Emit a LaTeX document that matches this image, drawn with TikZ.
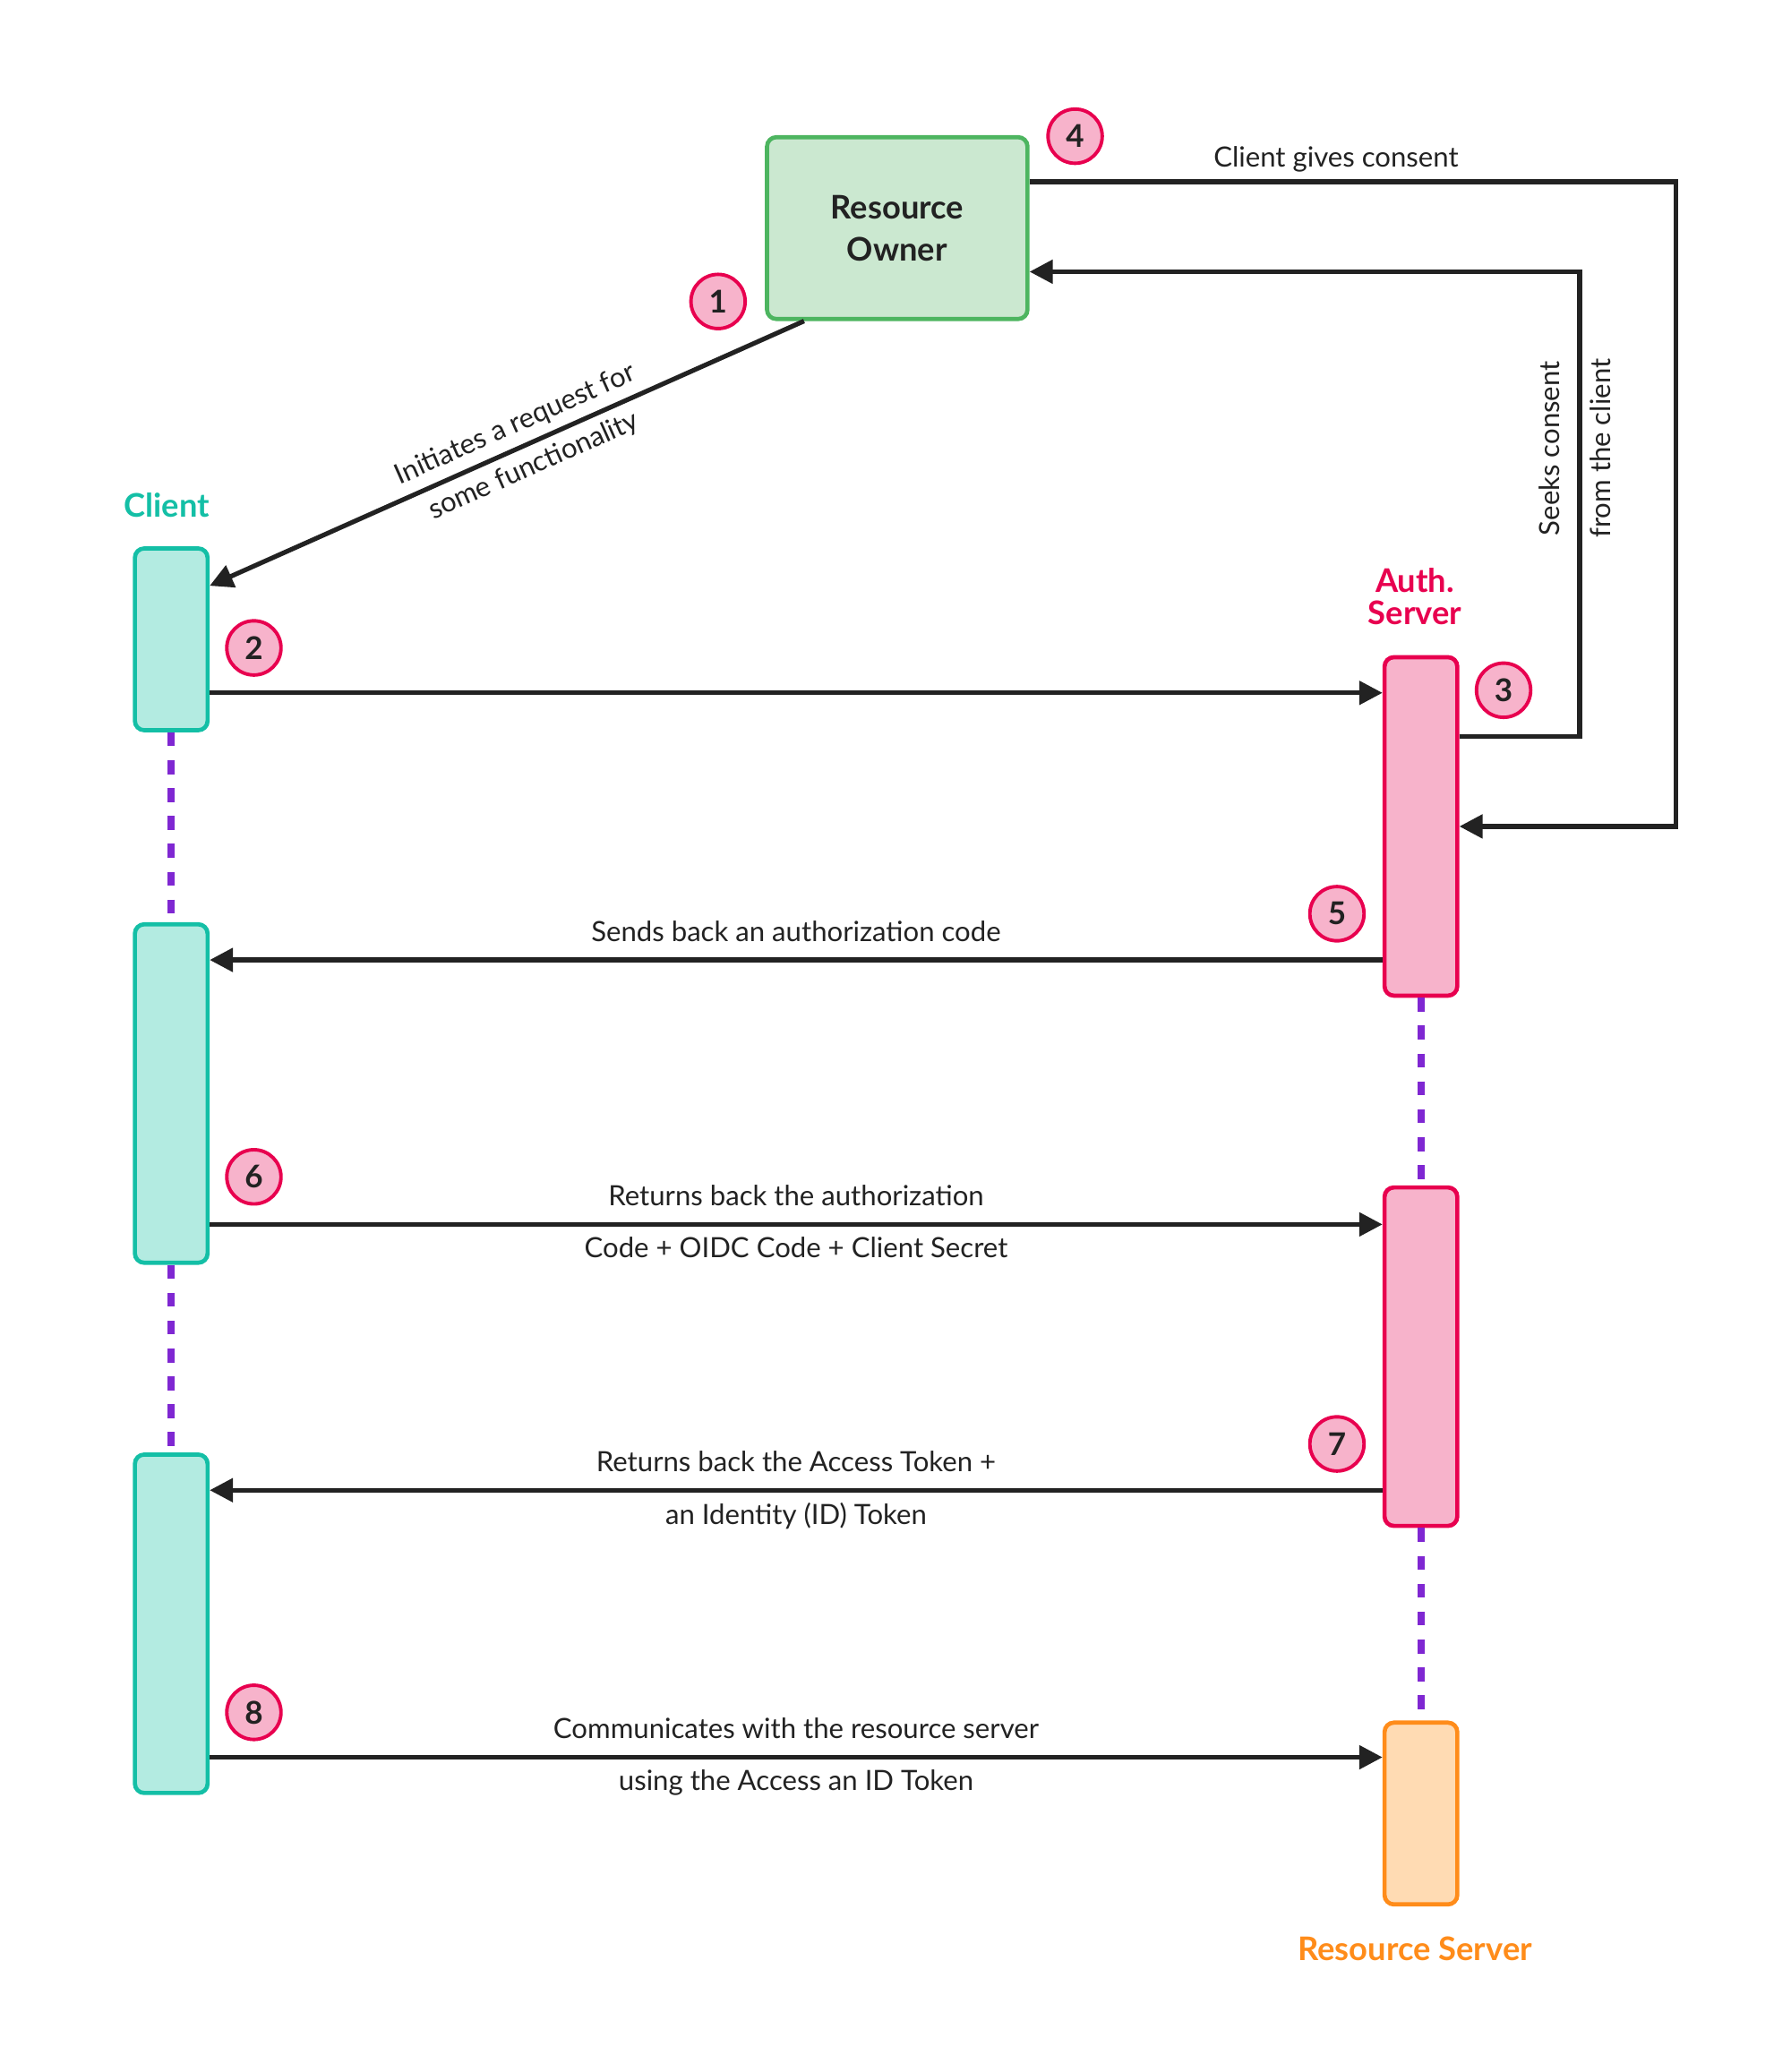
\documentclass[tikz,border=0pt]{standalone}
\usepackage{fontspec}
\setmainfont{Lato}
\usepackage{xcolor}
\usetikzlibrary{arrows.meta}

\definecolor{ink}{HTML}{222222}
\definecolor{tealline}{HTML}{14BFA6}
\definecolor{tealfill}{HTML}{B3EBE1}
\definecolor{pinkline}{HTML}{E8004F}
\definecolor{pinkfill}{HTML}{F7B3CB}
\definecolor{greenline}{HTML}{4DB560}
\definecolor{greenfill}{HTML}{CBE8D0}
\definecolor{orangeline}{HTML}{FF8C1A}
\definecolor{orangefill}{HTML}{FFDBB3}
\definecolor{lifeline}{HTML}{7F27D2}

\begin{document}
\begin{tikzpicture}[
            x=0.02cm, y=-0.02cm,
            bar/.style={draw, rectangle, rounded corners=4pt, line width=1.8pt, minimum width=1.10cm},
            client/.style={bar, draw=tealline, fill=tealfill},
            auth/.style={bar, draw=pinkline, fill=pinkfill},
            badge/.style={draw=pinkline, fill=pinkfill, circle, line width=1.5pt, minimum size=0.82cm, inner sep=0pt, text=ink, font=\fontsize{13.5}{14}\selectfont\bfseries},
            title/.style={align=center, font=\fontsize{14}{13.7}\selectfont\bfseries},
            msg/.style={text=ink, font=\fontsize{12}{14}\selectfont},
            arr/.style={draw=ink, line width=2pt, -{Triangle[length=10pt, width=10pt]}},
            life/.style={draw=lifeline, line width=3pt, dash pattern=on 6pt off 6pt}
            ]
            \useasboundingbox (0,0) rectangle (1354,1567);

            % Nodes with manual coordinates
            \node[draw=greenline, fill=greenfill, rectangle, rounded corners=4pt, line width=1.8pt, minimum width=3.94cm, minimum height=2.75cm, align=center, text=ink, font=\fontsize{14}{18.2}\selectfont\bfseries] (ro) at (678.5,172.5) {Resource\\Owner};

            \node[client, minimum height=2.75cm] (cl1) at (129.5,483.5) {};
            \node[client, minimum height=5.12cm] (cl2) at (129.5,827) {};
            \node[client, minimum height=5.12cm] (cl3) at (129.5,1228) {};

            \node[auth, minimum height=5.12cm] (as1) at (1074.5,625) {};
            \node[auth, minimum height=5.12cm] (as2) at (1074.5,1026) {};
            \node[bar, draw=orangeline, fill=orangefill, minimum height=2.75cm] (rs) at (1074.5,1371.5) {};

            \node[title, text=tealline] (cltitle) at (126,382) {Client};
            \node[title, text=pinkline] (astitle) at (1070,451) {Auth.\\Server};
            \node[title, text=orangeline] (rstitle) at (1070,1474) {Resource Server};

            % Step numbers
            \node[badge] (n1) at (543,228) {1};
            \node[badge] (n2) at (192,490) {2};
            \node[badge] (n3) at (1137,522) {3};
            \node[badge] (n4) at (813,103) {4};
            \node[badge] (n5) at (1011,691) {5};
            \node[badge] (n6) at (192,890) {6};
            \node[badge] (n7) at (1011,1092) {7};
            \node[badge] (n8) at (192,1295) {8};

            % Lifelines
            \draw[life] (cl1) -- (cl2);
            \draw[life] (cl2) -- (cl3);
            \draw[life] (as1) -- (as2);
            \draw[life] (as2) -- (rs);

            % Arrows
            \draw[arr] ([xshift=-1.41cm]ro.south) -- node[msg, sloped, above, pos=0.47] {Initiates a request for} node[msg, sloped, below, pos=0.47] {some functionality} ([yshift=0.81cm]cl1.east);
            \draw[arr] ([yshift=-0.81cm]cl1.east) -- ([yshift=-0.81cm]cl1.east -| as1.west);
            \draw[arr] ([yshift=1.36cm]as1.east) -- ++(1.82cm,0) |- node[msg, rotate=90, above, pos=0.31, inner sep=7.5pt] {Seeks consent} node[msg, rotate=90, below, pos=0.31] {from the client} ([yshift=-0.66cm]ro.east);
            \draw[arr] ([yshift=0.7cm]ro.east) -- node[msg, above, pos=0.474] {Client gives consent} ++(9.78cm,0) |- (as1.east);
            \draw[arr] ([yshift=-2.02cm]as1.west) -- node[msg, above=3.5pt] {Sends back an authorization code} ([yshift=-2.02cm]as1.west -| cl2.east);
            \draw[arr] ([yshift=-1.98cm]cl2.east) -- node[msg, above=3.5pt] {Returns back the authorization} node[msg, below=1pt] {Code + OIDC Code + Client Secret} ([yshift=-1.98cm]cl2.east -| as2.west);
            \draw[arr] ([yshift=-2.02cm]as2.west) -- node[msg, above=3.5pt] {Returns back the Access Token +} node[msg, below=1pt] {an Identity (ID) Token} ([yshift=-2.02cm]as2.west -| cl3.east);
            \draw[arr] ([yshift=-2.02cm]cl3.east) -- node[msg, above=3.5pt] {Communicates with the resource server} node[msg, below=1pt] {using the Access an ID Token} ([yshift=-2.02cm]cl3.east -| rs.west);
        \end{tikzpicture}
\end{document}
